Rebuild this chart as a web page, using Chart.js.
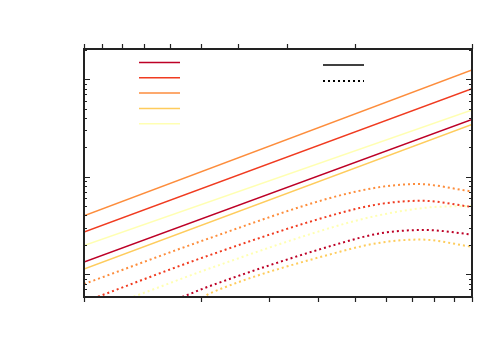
<!DOCTYPE html>
<html>
<head>
<meta charset="utf-8">
<script src="https://cdn.jsdelivr.net/npm/chart.js@4/dist/chart.umd.min.js"></script>
<style>
  html, body { margin: 0; padding: 0; background: #fff; }
  #wrap { width: 500px; height: 350px; }
</style>
</head>
<body>
<div id="wrap"><canvas id="c"></canvas></div>
<script>
// axis ranges (log-log, no labels in the source picture)
const xRange = [1, 10];
const yRange = [0.582, 205];

// series colours, legend order top to bottom
const colors = ["#bd0026", "#f03b20", "#fd8d3c", "#fecc5c", "#ffffb2"];

// solid lines (power laws): value at x = 1 and x = 10
const solidX = [1, 10];
const solidDarkRed = [1.33, 38.8];
const solidRed = [2.71, 80];
const solidOrange = [3.98, 125];
const solidLtOrange = [1.13, 34.5];
const solidYellow = [1.96, 48.4];

// dotted curves
const dotDarkRedX = [1.6, 1.789, 2.112, 4.568, 5.794, 7.567, 10];
const dotDarkRed = [0.5, 0.582, 0.755, 2.07, 2.62, 2.84, 2.55];
const dotRedX = [1, 1.0996, 2.112, 4.568, 5.794, 7.433, 10];
const dotRed = [0.515, 0.596, 1.57, 4.24, 5.245, 5.67, 4.89];
const dotOrangeX = [1, 2.112, 4.306, 5.794, 7.215, 10];
const dotOrange = [0.791, 2.347, 6.04, 7.83, 8.41, 7.05];
const dotLtOrangeX = [1.8, 2.026, 2.112, 4.568, 5.794, 7.345, 10];
const dotLtOrange = [0.5, 0.582, 0.635, 1.70, 2.10, 2.265, 1.91];
const dotYellowX = [1.2, 1.378, 2.112, 4.568, 5.794, 7.795, 10];
const dotYellow = [0.5, 0.61, 1.147, 3.19, 4.04, 4.85, 5.0];

const pts = (xs, ys) => xs.map((x, i) => ({ x: x, y: ys[i] }));

const solidSets = [solidDarkRed, solidRed, solidOrange, solidLtOrange, solidYellow];
const dotSets = [
  [dotDarkRedX, dotDarkRed],
  [dotRedX, dotRed],
  [dotOrangeX, dotOrange],
  [dotLtOrangeX, dotLtOrange],
  [dotYellowX, dotYellow]
];

const datasets = [];
solidSets.forEach((ys, i) => {
  datasets.push({
    data: pts(solidX, ys),
    borderColor: colors[i],
    borderWidth: 1.5,
    pointRadius: 0,
    tension: 0
  });
});
dotSets.forEach((s, i) => {
  datasets.push({
    data: pts(s[0], s[1]),
    borderColor: colors[i],
    borderWidth: 2,
    borderDash: [2, 3],
    pointRadius: 0,
    cubicInterpolationMode: "monotone"
  });
});

const niceTick = v => {
  const m = v / Math.pow(10, Math.floor(Math.log10(v) + 1e-9));
  return Math.abs(m - Math.round(m)) < 1e-6 ? Math.round(m) : 0;
};

// frame, inward y ticks, outward x ticks, and line-only legend
const framePlugin = {
  id: "frame",
  afterDraw(chart) {
    const ctx = chart.ctx;
    const a = chart.chartArea;
    ctx.save();
    ctx.strokeStyle = "#222";
    ctx.lineWidth = 1.2;
    ctx.setLineDash([]);

    const ys = chart.scales.y;
    ys.ticks.forEach(t => {
      const m = niceTick(t.value);
      if (!m) return;
      const py = Math.round(ys.getPixelForValue(t.value)) + 0.5;
      if (py < a.top || py > a.bottom) return;
      const len = m === 1 ? 6 : 3;
      ctx.beginPath();
      ctx.moveTo(a.left, py); ctx.lineTo(a.left + len, py);
      ctx.moveTo(a.right, py); ctx.lineTo(a.right - len, py);
      ctx.stroke();
    });

    const xb = chart.scales.x;
    xb.ticks.forEach(t => {
      if (!niceTick(t.value)) return;
      const px = Math.round(xb.getPixelForValue(t.value)) + 0.5;
      ctx.beginPath();
      ctx.moveTo(px, a.bottom); ctx.lineTo(px, a.bottom + 5);
      ctx.stroke();
    });
    const xt = chart.scales.x2;
    xt.ticks.forEach(t => {
      if (!niceTick(t.value)) return;
      const px = Math.round(xt.getPixelForValue(t.value)) + 0.5;
      ctx.beginPath();
      ctx.moveTo(px, a.top); ctx.lineTo(px, a.top - 5);
      ctx.stroke();
    });

    ctx.lineWidth = 2;
    ctx.strokeRect(a.left, a.top, a.right - a.left, a.bottom - a.top);

    // legend: colour keys
    ctx.lineWidth = 1.5;
    colors.forEach((c, i) => {
      const y = 62.5 + i * 15.3;
      ctx.strokeStyle = c;
      ctx.beginPath();
      ctx.moveTo(139, y); ctx.lineTo(180, y);
      ctx.stroke();
    });
    // legend: line style keys
    ctx.strokeStyle = "#000";
    ctx.beginPath();
    ctx.moveTo(323, 65); ctx.lineTo(364, 65);
    ctx.stroke();
    ctx.lineWidth = 2;
    ctx.setLineDash([2, 3]);
    ctx.beginPath();
    ctx.moveTo(323, 81); ctx.lineTo(364, 81);
    ctx.stroke();
    ctx.restore();
  }
};

const hiddenAxis = (pos, extra) => Object.assign({
  type: "logarithmic",
  position: pos,
  ticks: { display: false },
  grid: { display: false },
  border: { display: false },
  afterFit: s => { if (s.isHorizontal()) s.height = 0; else s.width = 0; }
}, extra);

new Chart(document.getElementById("c"), {
  type: "line",
  data: { datasets: datasets },
  plugins: [framePlugin],
  options: {
    responsive: true,
    maintainAspectRatio: false,
    animation: false,
    layout: { padding: { left: 84, right: 28, top: 49, bottom: 53 } },
    plugins: { legend: { display: false }, tooltip: { enabled: false } },
    scales: {
      x: hiddenAxis("bottom", { min: xRange[0], max: xRange[1] }),
      x2: hiddenAxis("top", { min: xRange[0], max: xRange[1], reverse: true }),
      y: hiddenAxis("left", { min: yRange[0], max: yRange[1] })
    }
  }
});
</script>
</body>
</html>
